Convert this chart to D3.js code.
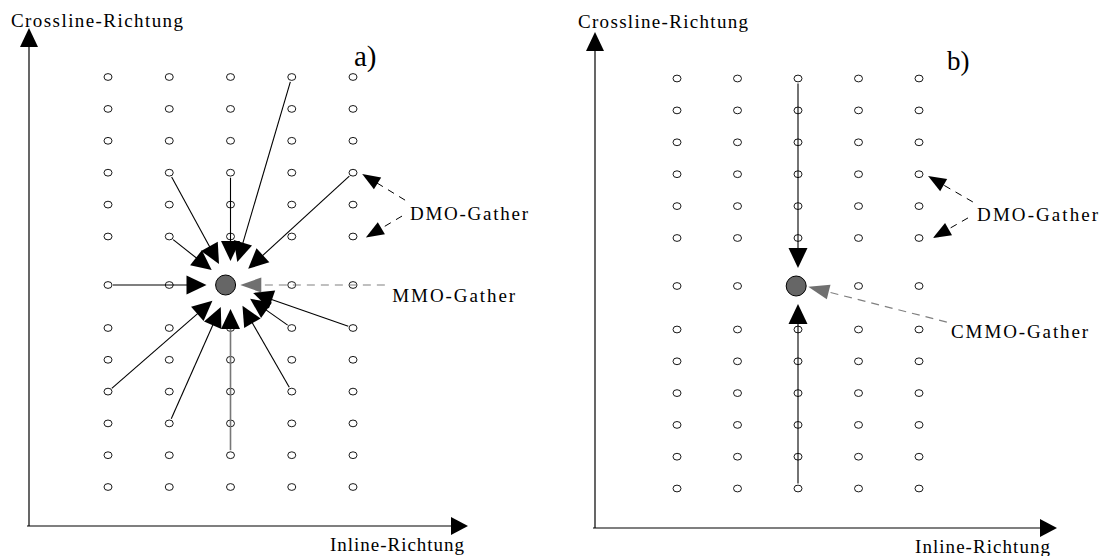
<!DOCTYPE html>
<html>
<head>
<meta charset="utf-8">
<script src="https://cdn.jsdelivr.net/npm/d3@7"></script>
<style>
  html, body { margin: 0; padding: 0; background: #fff; }
  svg { display: block; }
  text { font-family: "Liberation Serif", "Times New Roman", serif; fill: #000; }
</style>
</head>
<body>
<svg id="chart" width="1101" height="556"></svg>
<script>
// ---------------- data ----------------
const inlineIdx = [0, 1, 2, 3, 4];                                   // grid columns
const crosslineIdx = [6, 5, 4, 3, 2, 1, 0, -1, -2, -3, -4, -5, -6];  // grid rows
const axisLabelX = "Inline-Richtung";
const axisLabelY = "Crossline-Richtung";
const panelLabels = ["a)", "b)"];

// panel a: MMO gather (stack target, drawn marker) and DMO-gather traces stacking into it
const mmoTarget = [2, 0];
const mmoMarker = [1.92, 0];
const mmoSources = [[3, 6], [1, 3], [2, 3], [1, 1], [4, 3], [0, 0],
                    [4, -1], [3, -1], [0, -3], [1, -4], [2, -5], [3, -3]];
const mmoSourceGray = [false, false, false, false, false, false,
                       false, false, false, false, true, false];
// panel b: CMMO gather and its crossline sources
const cmmoTarget = [2, 0];
const cmmoMarker = [1.97, 0];
const cmmoSources = [[2, 6], [2, -6]];

// annotations (in grid units): [startInline, startCross, tipInline, tipCross]
const dmoArrowsA = [[4.85, 2.14, 4.15, 2.96], [4.80, 1.64, 4.21, 0.98]];
const dmoArrowsB = [[4.89, 2.13, 4.15, 2.94], [4.81, 1.63, 4.23, 1.00]];
const mmoArrowA = [4.52, 0, 2.16, 0];
const cmmoArrowB = [4.46, -0.83, 2.17, -0.02];
const annotTextA = [["DMO-Gather", 4.93, 1.52, 118], ["MMO-Gather", 4.64, -0.40, 123]];
const annotTextB = [["DMO-Gather", 4.96, 1.53, 121], ["CMMO-Gather", 4.53, -1.27, 137]];

// ---------------- layout ----------------
const svg = d3.select("#chart");

const panels = [
  {
    x: d3.scaleLinear().domain([0, 4]).range([108, 353]),
    y: d3.scaleLinear().domain([-6, -1, 0, 1, 6]).range([487, 328, 285, 236.5, 77]),
    axisX: 29, axisY: 526, axisTop: 28, axisRight: 468,
    labelY: { x: 11, y: 27, len: 172 },
    labelX: { x: 330, y: 551, len: 134 },
    panel: { x: 354, y: 66, text: panelLabels[0], size: 29 },
    target: mmoTarget, marker: mmoMarker, sources: mmoSources, gray: mmoSourceGray,
    tipDist: 24,
    dmo: dmoArrowsA, gather: mmoArrowA, texts: annotTextA
  },
  {
    x: d3.scaleLinear().domain([0, 4]).range([677, 919]),
    y: d3.scaleLinear().domain([-6, -1, 0, 1, 6]).range([488.5, 329.5, 286, 238, 78.5]),
    axisX: 595, axisY: 528, axisTop: 32, axisRight: 1057,
    labelY: { x: 578, y: 28, len: 170 },
    labelX: { x: 915, y: 553, len: 135 },
    panel: { x: 947, y: 70, text: panelLabels[1], size: 27 },
    target: cmmoTarget, marker: cmmoMarker, sources: cmmoSources, gray: [false, false],
    tipDist: 18,
    dmo: dmoArrowsB, gather: cmmoArrowB, texts: annotTextB
  }
];

function arrowHead(g, tip, dir, len, half, color) {
  const [ux, uy] = dir;
  const bx = tip[0] - ux * len, by = tip[1] - uy * len;
  const px = -uy, py = ux;
  g.append("path")
    .attr("d", `M${tip[0]},${tip[1]}L${bx + px * half},${by + py * half}L${bx - px * half},${by - py * half}Z`)
    .attr("fill", color).attr("stroke", "none");
}
function unit(a, b) {
  const dx = b[0] - a[0], dy = b[1] - a[1];
  const l = Math.hypot(dx, dy);
  return [dx / l, dy / l, l];
}

panels.forEach(p => {
  const g = svg.append("g");
  const X = p.x, Y = p.y;

  // axes
  g.append("line").attr("x1", p.axisX).attr("y1", p.axisY).attr("x2", p.axisX).attr("y2", p.axisTop + 18)
    .attr("stroke", "#000").attr("stroke-width", 1.2);
  arrowHead(g, [p.axisX, p.axisTop], [0, -1], 19, 9, "#000");
  g.append("line").attr("x1", p.axisX - 2).attr("y1", p.axisY).attr("x2", p.axisRight - 16).attr("y2", p.axisY)
    .attr("stroke", "#000").attr("stroke-width", 1.2);
  arrowHead(g, [p.axisRight, p.axisY], [1, 0], 17, 9, "#000");

  g.append("text").attr("x", p.labelY.x).attr("y", p.labelY.y).attr("font-size", 19)
    .attr("textLength", p.labelY.len).attr("lengthAdjust", "spacing").text(axisLabelY);
  g.append("text").attr("x", p.labelX.x).attr("y", p.labelX.y).attr("font-size", 19)
    .attr("textLength", p.labelX.len).attr("lengthAdjust", "spacing").text(axisLabelX);
  g.append("text").attr("x", p.panel.x).attr("y", p.panel.y).attr("font-size", p.panel.size).text(p.panel.text);

  // grid of DMO gathers
  const pts = [];
  crosslineIdx.forEach(c => inlineIdx.forEach(i => {
    if (c === 0 && i === 2) return;
    pts.push([i, c]);
  }));
  g.selectAll("ellipse.grid").data(pts).enter().append("ellipse")
    .attr("class", "grid")
    .attr("cx", d => X(d[0])).attr("cy", d => Y(d[1]))
    .attr("rx", 4).attr("ry", 3.4)
    .attr("fill", "#fff").attr("stroke", "#000").attr("stroke-width", 0.9);

  // stacking lines + arrowheads
  const T = [X(p.target[0]), Y(p.target[1])];
  p.sources.forEach((s, k) => {
    const S = [X(s[0]), Y(s[1])];
    const [ux, uy] = unit(S, T);
    const tip = [T[0] - ux * p.tipDist, T[1] - uy * p.tipDist];
    const col = p.gray[k] ? "#777" : "#000";
    g.append("line")
      .attr("x1", S[0] + ux * 5).attr("y1", S[1] + uy * 5)
      .attr("x2", tip[0] - ux * 15).attr("y2", tip[1] - uy * 15)
      .attr("stroke", col).attr("stroke-width", p.gray[k] ? 1.6 : 1.1);
    arrowHead(g, tip, [ux, uy], 20, 9.5, "#000");
  });

  // target gather (filled marker)
  g.append("circle").attr("cx", X(p.marker[0])).attr("cy", Y(p.marker[1])).attr("r", 10)
    .attr("fill", "#666").attr("stroke", "#000").attr("stroke-width", 1);

  // DMO annotation arrows (black dashed)
  p.dmo.forEach(a => {
    const S = [X(a[0]), Y(a[1])], P = [X(a[2]), Y(a[3])];
    const [ux, uy] = unit(S, P);
    g.append("line").attr("x1", S[0]).attr("y1", S[1])
      .attr("x2", P[0] - ux * 14).attr("y2", P[1] - uy * 14)
      .attr("stroke", "#000").attr("stroke-width", 1).attr("stroke-dasharray", "7,6");
    arrowHead(g, P, [ux, uy], 18, 7, "#000");
  });

  // gather annotation arrow (gray dashed)
  {
    const a = p.gather;
    const S = [X(a[0]), Y(a[1])], P = [X(a[2]), Y(a[3])];
    const [ux, uy] = unit(S, P);
    g.append("line").attr("x1", S[0]).attr("y1", S[1])
      .attr("x2", P[0] - ux * 16).attr("y2", P[1] - uy * 16)
      .attr("stroke", "#808080").attr("stroke-width", 1.2).attr("stroke-dasharray", "8,6");
    arrowHead(g, P, [ux, uy], 21, 7.5, "#707070");
  }

  p.texts.forEach(t => {
    g.append("text").attr("x", X(t[1])).attr("y", Y(t[2])).attr("font-size", 19)
      .attr("textLength", t[3]).attr("lengthAdjust", "spacing").text(t[0]);
  });
});
</script>
</body>
</html>
